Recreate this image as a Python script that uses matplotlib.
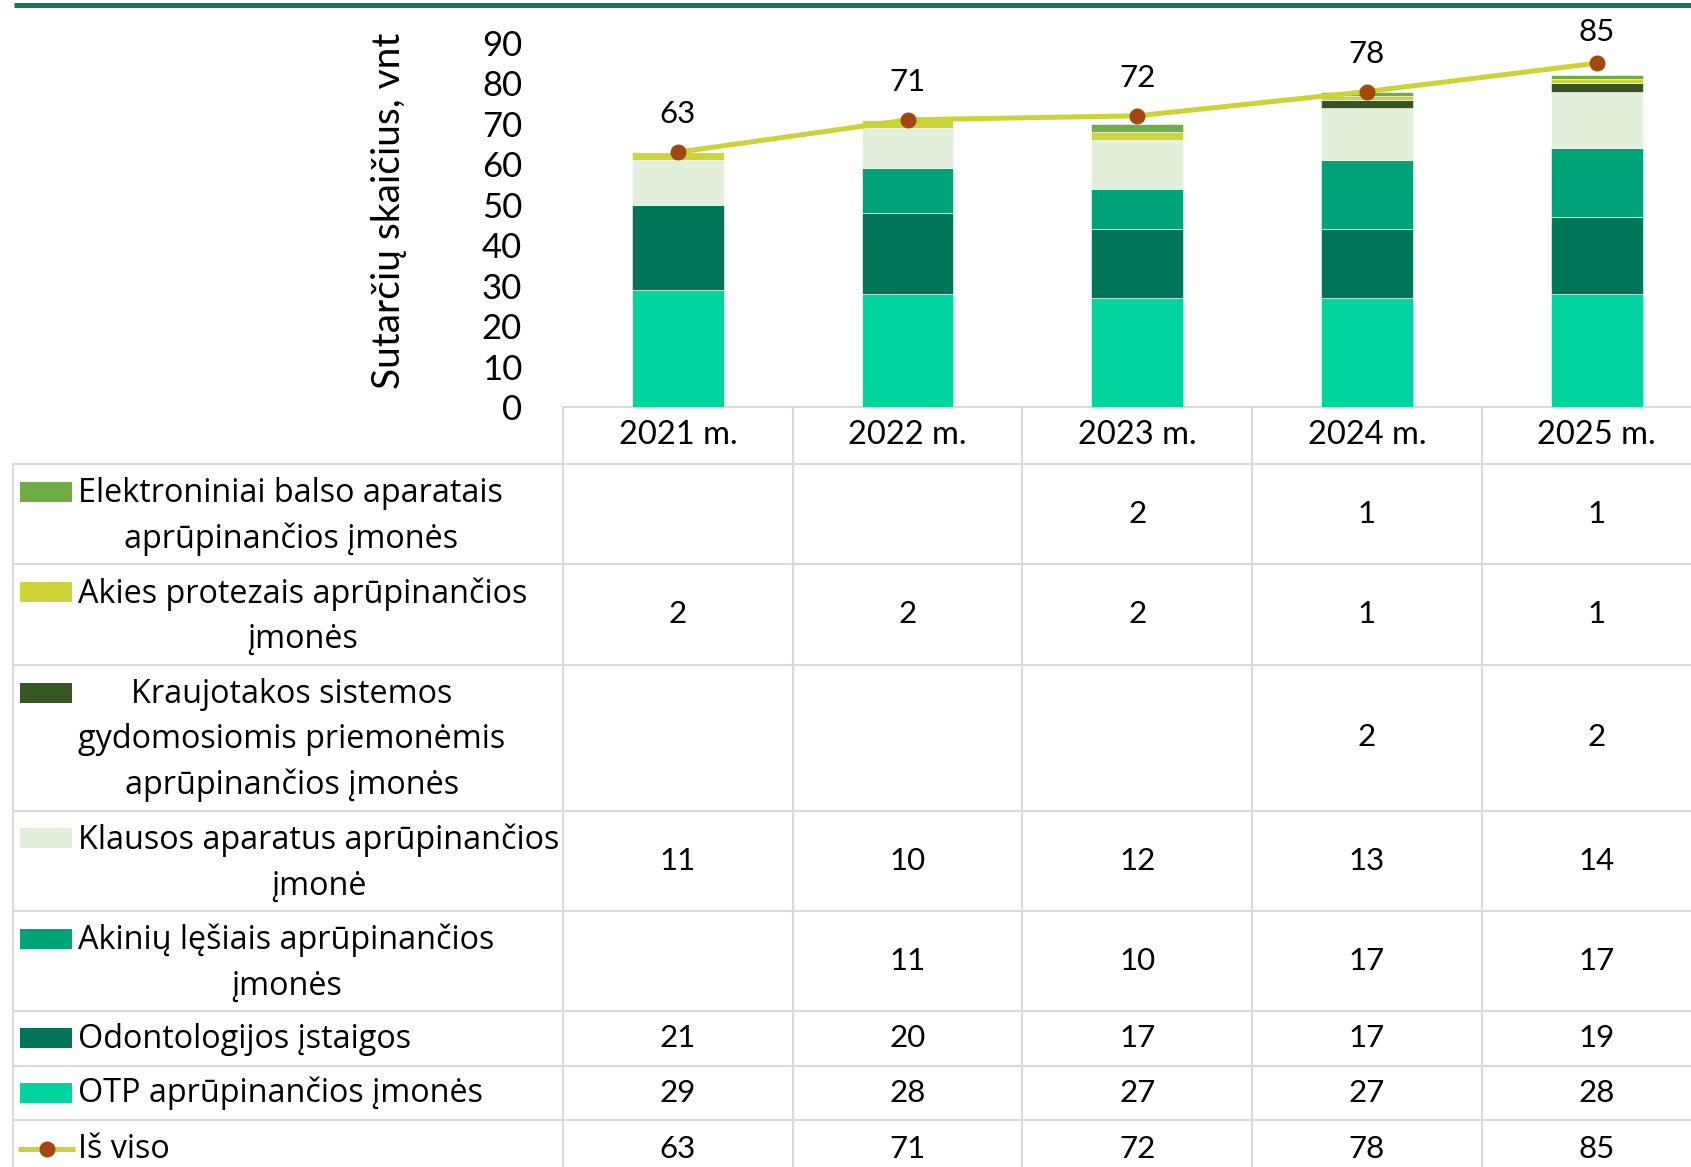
import numpy as np
import matplotlib
matplotlib.use("Agg")
import matplotlib.pyplot as plt
from matplotlib.patches import Rectangle
from matplotlib.transforms import blended_transform_factory

# ---------------- data ----------------
years = ["2021 m.", "2022 m.", "2023 m.", "2024 m.", "2025 m."]
series_names = [
    "Elektroniniai balso aparatais\naprūpinančios įmonės",
    "Akies protezais aprūpinančios\nįmonės",
    "Kraujotakos sistemos\ngydomosiomis priemonėmis\naprūpinančios įmonės",
    "Klausos aparatus aprūpinančios\nįmonė",
    "Akinių lęšiais aprūpinančios\nįmonės",
    "Odontologijos įstaigos",
    "OTP aprūpinančios įmonės",
]
elektroniniai = [None, None, 2, 1, 1]
akies = [2, 2, 2, 1, 1]
kraujotakos = [None, None, None, 2, 2]
klausos = [11, 10, 12, 13, 14]
akiniu = [None, 11, 10, 17, 17]
odontologijos = [21, 20, 17, 17, 19]
otp = [29, 28, 27, 27, 28]
total_name = "Iš viso"
total = [63, 71, 72, 78, 85]

series_values = [elektroniniai, akies, kraujotakos, klausos, akiniu, odontologijos, otp]
series_colors = ["#70AD47", "#CDD43A", "#375623", "#E2EFDA", "#00A278", "#007558", "#02D49F"]
line_color = "#CCD435"
marker_color = "#A1470F"

ylabel = "Sutarčių skaičius, vnt"

# ---------------- figure ----------------
W, H = 1691, 1167
fig = plt.figure(figsize=(W / 100, H / 100), dpi=100)

NUM_FONT = ["Lato", "DejaVu Sans"]
TXT_FONT = ["Open Sans", "DejaVu Sans"]

# overlay in pixel coordinates
ov = fig.add_axes([0, 0, 1, 1], zorder=0)
ov.set_xlim(0, W)
ov.set_ylim(H, 0)
ov.axis("off")

# chart axes
ax_left, ax_right = 563, 1711.5
ax_bottom, ax_top = 407, 43
ax = fig.add_axes([ax_left / W, 1 - ax_bottom / H, (ax_right - ax_left) / W, (ax_bottom - ax_top) / H], zorder=2)
ax.patch.set_visible(False)

x = np.arange(len(years))
bottom = np.zeros(len(years))
stack_order = list(range(len(series_values)))[::-1]  # OTP at bottom
for k in stack_order:
    vals = np.array([np.nan if v is None else v for v in series_values[k]], dtype=float)
    v0 = np.nan_to_num(vals)
    ax.bar(x, v0, width=0.4, bottom=bottom, color=series_colors[k], edgecolor="white", linewidth=0.4, zorder=2)
    bottom += v0

ax.set_xlim(-0.5, len(years) - 0.5)
ax.set_ylim(0, 90)

ax.plot(x, total, color=line_color, lw=3.6, marker="o", markersize=10.5,
        markerfacecolor=marker_color, markeredgecolor=marker_color, zorder=4, solid_capstyle="round")
px_per_unit = (ax_bottom - ax_top) / 90.0
for xi, t in zip(x, total):
    ypx = ax_bottom - t * px_per_unit
    off_px = min(38.0, ypx - 32.0)
    ax.annotate(str(t), (xi, t), xytext=(0, off_px * 0.72), textcoords="offset points",
                ha="center", va="center", fontsize=22.5, family=NUM_FONT, annotation_clip=False)

ax.set_yticks(range(0, 91, 10))
ax.tick_params(axis="y", length=0, labelsize=25, pad=29.5)
for lab in ax.get_yticklabels():
    lab.set_family(NUM_FONT)
ax.set_xticks([])
for s in ax.spines.values():
    s.set_visible(False)

fig.text(389 / W, 1 - 211 / H, ylabel, rotation=90, ha="center", va="center",
         fontsize=28, family=NUM_FONT)

# top decorative line
ov.plot([14, W], [5, 5], color="#0E7B5A", lw=3.6, solid_capstyle="butt")

# ---------------- data table ----------------
grid_c = "#D9D9D9"
glw = 1.5
bt = blended_transform_factory(ax.transData, ov.transData)
header_top, header_bot = 407, 464
row_edges = [464, 564, 664.5, 810.5, 910.5, 1011, 1065.5, 1120, 1176]
table_left = 13

# horizontal lines
ov.plot([ax_left, W], [header_top, header_top], color=grid_c, lw=glw)
for yb in row_edges:
    ov.plot([table_left, W], [yb, yb], color=grid_c, lw=glw)
# vertical lines
ov.plot([table_left, table_left], [row_edges[0], row_edges[-1]], color=grid_c, lw=glw)
for xb in np.arange(-0.5, len(years) + 0.5, 1.0):
    ax.plot([xb, xb], [header_top, row_edges[-1]], color=grid_c, lw=glw, transform=bt, clip_on=False)

# header labels
for xi, yl in zip(x, years):
    ax.text(xi, (header_top + header_bot) / 2, yl, transform=bt, ha="center", va="center",
            fontsize=23.5, family=NUM_FONT)

line_gap = 44.5
all_rows = series_values + [total]
all_names = series_names + [total_name]
for r, (name, vals) in enumerate(zip(all_names, all_rows)):
    y0, y1 = row_edges[r], row_edges[r + 1]
    if r == len(all_rows) - 1:
        yc = 1149
    else:
        yc = (y0 + y1) / 2
    nlines = name.count("\n") + 1
    first_c = yc - (nlines - 1) / 2 * line_gap
    ov.text(78.5, yc + (2.5 if nlines > 1 else 1), name, ha="left", va="center", multialignment="center",
            fontsize=23.3, family=TXT_FONT, linespacing=1.49)
    if r < len(series_values):
        ov.add_patch(Rectangle((20, first_c - 10), 52, 20, color=series_colors[r], lw=0))
    else:
        ov.plot([18, 75], [yc, yc], color=line_color, lw=3.6, solid_capstyle="butt")
        ov.plot([46.5], [yc], "o", color=marker_color, markersize=10.5)
    for xi, v in zip(x, vals):
        if v is None:
            continue
        ax.text(xi, yc, str(v), transform=bt, ha="center", va="center",
                fontsize=22.5, family=NUM_FONT, clip_on=False)

fig.savefig("out.png", dpi=100)
